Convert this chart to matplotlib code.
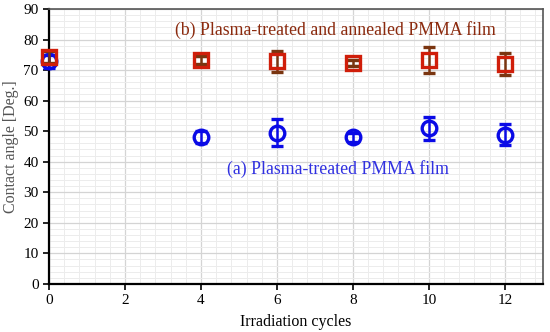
import matplotlib.pyplot as plt
from matplotlib.ticker import MultipleLocator

plt.rcParams["font.family"] = ["Liberation Serif", "DejaVu Serif"]

CYCLES = [0, 4, 6, 8, 10, 12]
ANNEALED_ANGLE = [74.4, 73.3, 72.8, 72.4, 73.3, 72.0]
ANNEALED_ERR = [2.0, 1.2, 3.5, 1.0, 4.4, 3.6]
TREATED_ANGLE = [72.8, 48.2, 49.5, 48.0, 50.9, 48.8]
TREATED_ERR = [2.0, 2.0, 4.4, 1.5, 3.8, 3.4]

LABEL_B = "(b) Plasma-treated and annealed PMMA film"
LABEL_A = "(a) Plasma-treated PMMA film"

fig = plt.figure(figsize=(5.5, 3.32), dpi=100)
ax = fig.add_axes([0.089, 0.145, 0.898, 0.828])

ax.errorbar(CYCLES, TREATED_ANGLE, yerr=TREATED_ERR, fmt="o", color="#0a0ae6",
            mfc="none", mec="#0a0ae6", mew=2.4, ms=10.5, elinewidth=1.8,
            capsize=4, capthick=1.8, zorder=3, clip_on=False)
ax.errorbar(CYCLES, ANNEALED_ANGLE, yerr=ANNEALED_ERR, fmt="s", color="#7a3510",
            mfc="none", mec="#d01e0a", mew=2.4, ms=10.5, elinewidth=1.8,
            capsize=4, capthick=1.8, zorder=4, clip_on=False)

ax.text(7.55, 83, LABEL_B, color="#8b2a0e", fontsize=12.8, ha="center", va="center")
ax.text(7.6, 37.5, LABEL_A, color="#3030e0", fontsize=12.8, ha="center", va="center")

ax.set_xlim(0, 13)
ax.set_ylim(0, 90)
ax.xaxis.set_major_locator(MultipleLocator(2))
ax.xaxis.set_minor_locator(MultipleLocator(0.4))
ax.yaxis.set_major_locator(MultipleLocator(10))
ax.yaxis.set_minor_locator(MultipleLocator(2))
ax.grid(which="major", color="#d4d4d4", linewidth=0.9)
ax.grid(which="minor", color="#ececec", linewidth=0.7)
ax.set_axisbelow(True)

ax.tick_params(which="major", direction="out", length=4, width=1.2, labelsize=11)
ax.tick_params(which="minor", length=0)
for side in ["left", "bottom"]:
    ax.spines[side].set_linewidth(1.6)
    ax.spines[side].set_color("black")
for side in ["top", "right"]:
    ax.spines[side].set_linewidth(1.2)
    ax.spines[side].set_color("#555555")

ax.set_xlabel("Irradiation cycles", fontsize=11.5, labelpad=5)
ax.set_ylabel("Contact angle [Deg.]", fontsize=11.5, color="#555555", labelpad=3)

fig.savefig("out.png", dpi=100)
